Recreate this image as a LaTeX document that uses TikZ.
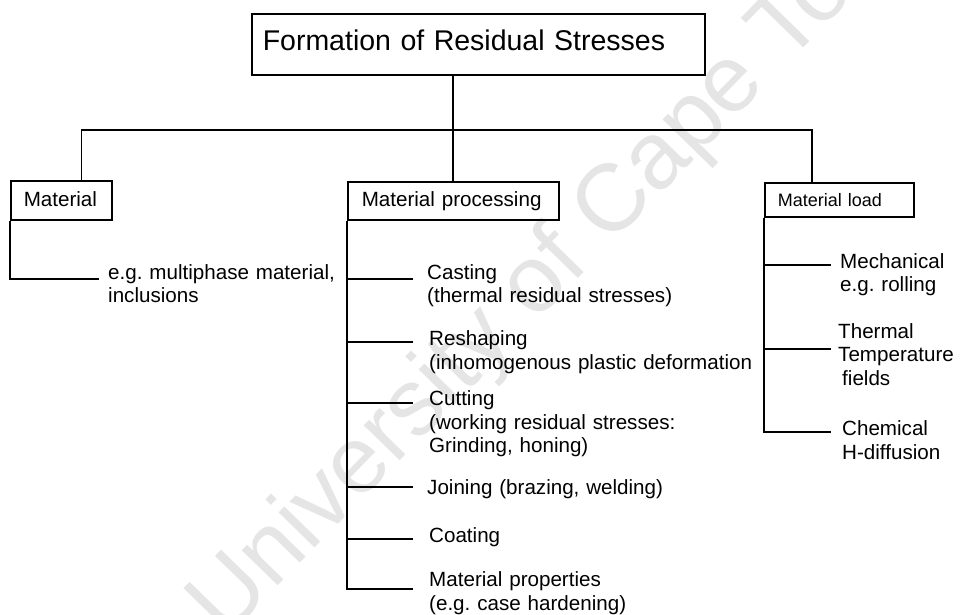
\documentclass[tikz,border=0pt]{standalone}
\usepackage{fontspec}
\setmainfont{Liberation Sans}
\frenchspacing
\begin{document}
\frenchspacing
\begin{tikzpicture}[x=1pt,y=-1pt,
  box/.style={draw, line width=1.5pt, anchor=north west, inner ysep=0pt, align=left},
  conn/.style={line width=1.8pt},
  lbl/.style={anchor=base west, inner sep=0pt, align=left, text width=340pt,
              font=\fontsize{20.6}{23.5}\selectfont},
  wmark/.style={rotate=45.7, text=black!10, inner sep=0pt,
              font=\fontsize{95}{95}\selectfont}
]
\useasboundingbox (0,0) rectangle (960,614);

% watermark
\node[wmark] (wm) at (566,256) {University of Cape Town};

% boxes
\node[box, minimum width=453pt, minimum height=61pt, inner xsep=11pt,
      text width=431pt, text height=20pt, text depth=7pt,
      font=\fontsize{28.5}{34}\selectfont] (title) at (251,13) {Formation of Residual Stresses};
\node[box, minimum width=101pt, minimum height=39pt, inner xsep=13pt,
      text width=75pt, text height=15pt, text depth=2pt,
      font=\fontsize{20.6}{23.5}\selectfont] (mat) at (10,180) {Material};
\node[box, minimum width=211pt, minimum height=38pt, inner xsep=14pt,
      text width=183pt, text height=15pt, text depth=3pt,
      font=\fontsize{20.6}{23.5}\selectfont] (proc) at (347,181) {Material processing};
\node[box, minimum width=149pt, minimum height=34pt, inner xsep=13pt,
      text width=123pt, text height=15pt, text depth=1pt,
      font=\fontsize{18}{21}\selectfont] (load) at (764,182) {Material load};

% bus
\coordinate (busL) at (81.5,130);
\coordinate (busM) at (453,130);
\coordinate (busR) at (812,130);
\draw[conn] (busM |- title.south) -- (busM |- proc.north);
\draw[conn] (busL |- mat.north) -- (busL) -- (busR) -- (busR |- load.north);

% Material branch
\coordinate (bm1) at (99,279);
\draw[conn] (mat.south west) |- (bm1);
\node[lbl] (m1) at (108,279.3) {e.g. multiphase material,\\inclusions};

% Material processing branches
\coordinate (bp1) at (413,279);
\coordinate (bp2) at (413,342);
\coordinate (bp3) at (413,403);
\coordinate (bp4) at (413,487);
\coordinate (bp5) at (413,539);
\coordinate (bp6) at (413,589);
\draw[conn] (proc.south west) |- (bp6);
\foreach \b in {bp1,bp2,bp3,bp4,bp5}{\draw[conn] (proc.south west |- \b) -- (\b);}
\node[lbl] (p1) at (427,279) {Casting\\(thermal residual stresses)};
\node[lbl] (p2) at (429,345.7) {Reshaping\\(inhomogenous plastic deformation};
\node[lbl] (p3) at (429,405.5) {Cutting\\(working residual stresses:\\Grinding, honing)};
\node[lbl] (p4) at (427,494) {Joining (brazing, welding)};
\node[lbl] (p5) at (429,542.7) {Coating};
\node[lbl] (p6) at (429,586.7) {Material properties\\(e.g. case hardening)};

% Material load branches
\coordinate (bl1) at (831,265);
\coordinate (bl2) at (831,349);
\coordinate (bl3) at (831,432);
\draw[conn] (load.south west) |- (bl3);
\foreach \b in {bl1,bl2}{\draw[conn] (load.south west |- \b) -- (\b);}
\node[lbl, text width=130pt] (l1) at (840,268) {Mechanical\\e.g. rolling};
\node[lbl, text width=130pt] (l2) at (838,338) {Thermal\\Temperature\\\hspace*{4pt}fields};
\node[lbl, text width=130pt] (l3) at (842,435.7) {Chemical\\H-diffusion};
\end{tikzpicture}
\end{document}
